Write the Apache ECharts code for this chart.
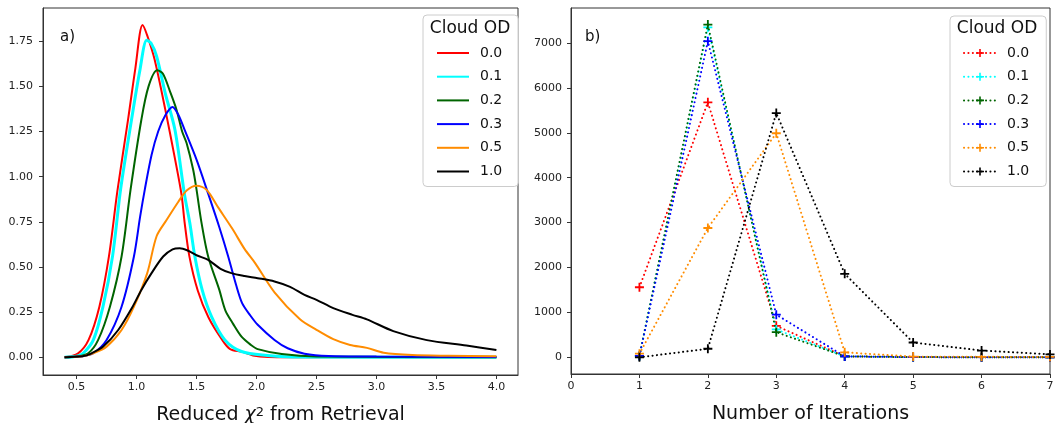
<!DOCTYPE html>
<html>
<head>
<meta charset="utf-8">
<script src="https://cdn.jsdelivr.net/npm/echarts@6/dist/echarts.min.js"></script>
<style>
html,body{margin:0;padding:0;background:#fff;}
#chart{width:1055px;height:423px;}
</style>
</head>
<body>
<div id="chart"></div>
<script>
// ---------- Panel a) : density of reduced chi^2 ----------
const odLabels = ['0.0', '0.1', '0.2', '0.3', '0.5', '1.0'];
const chiTicks = [0.5, 1.0, 1.5, 2.0, 2.5, 3.0, 3.5, 4.0];
const densTicks = [0, 0.25, 0.5, 0.75, 1.0, 1.25, 1.5, 1.75];

const chi_od00 = [[0.40,0],[0.51,0.02],[0.60,0.096],[0.69,0.28],[0.77,0.56],[0.84,0.92],[0.93,1.32],[0.99,1.60],[1.05,1.84],[1.09,1.78],[1.15,1.65],[1.24,1.37],[1.32,1.10],[1.375,0.90],[1.40,0.75],[1.44,0.56],[1.51,0.37],[1.60,0.22],[1.71,0.10],[1.78,0.045],[1.88,0.03],[1.97,0.01],[2.1,0.002],[2.5,0],[4.0,0]];
const chi_od01 = [[0.40,0],[0.50,0.006],[0.555,0.022],[0.64,0.096],[0.72,0.28],[0.80,0.56],[0.867,0.93],[0.958,1.315],[1.028,1.59],[1.085,1.755],[1.12,1.74],[1.167,1.667],[1.24,1.46],[1.32,1.26],[1.40,0.90],[1.444,0.743],[1.486,0.558],[1.547,0.373],[1.625,0.225],[1.736,0.096],[1.875,0.032],[2.09,0.01],[2.3,0.002],[4.0,0]];
const chi_od02 = [[0.40,0],[0.50,0.004],[0.597,0.022],[0.68,0.096],[0.778,0.28],[0.875,0.558],[0.95,0.928],[1.04,1.315],[1.10,1.50],[1.172,1.589],[1.22,1.57],[1.28,1.47],[1.333,1.371],[1.38,1.25],[1.417,1.186],[1.472,1.038],[1.50,0.928],[1.542,0.743],[1.597,0.558],[1.69,0.373],[1.74,0.26],[1.805,0.185],[1.875,0.114],[1.95,0.07],[2.01,0.045],[2.21,0.018],[2.5,0.004],[4.0,0]];
const chi_od03 = [[0.40,0],[0.55,0.005],[0.639,0.022],[0.75,0.096],[0.875,0.28],[0.978,0.558],[1.03,0.78],[1.069,0.93],[1.125,1.12],[1.18,1.25],[1.24,1.34],[1.30,1.386],[1.35,1.34],[1.40,1.26],[1.50,1.094],[1.60,0.90],[1.69,0.72],[1.764,0.558],[1.83,0.40],[1.88,0.30],[1.95,0.23],[2.01,0.18],[2.15,0.096],[2.26,0.05],[2.40,0.02],[2.6,0.007],[3.0,0.004],[4.0,0.002]];
const chi_od05 = [[0.40,0],[0.55,0.005],[0.639,0.022],[0.75,0.059],[0.875,0.151],[0.978,0.28],[1.089,0.466],[1.167,0.67],[1.25,0.76],[1.347,0.86],[1.42,0.925],[1.50,0.95],[1.583,0.928],[1.68,0.83],[1.80,0.71],[1.90,0.60],[1.99,0.52],[2.15,0.36],[2.36,0.212],[2.5,0.152],[2.64,0.10],[2.78,0.068],[2.92,0.052],[3.06,0.025],[3.3,0.012],[3.6,0.008],[4.0,0.005]];
const chi_od10 = [[0.40,0],[0.55,0.005],[0.625,0.022],[0.722,0.059],[0.847,0.151],[0.967,0.28],[1.04,0.373],[1.125,0.466],[1.222,0.558],[1.30,0.598],[1.36,0.604],[1.43,0.59],[1.50,0.565],[1.597,0.539],[1.70,0.49],[1.79,0.466],[1.90,0.45],[2.01,0.438],[2.15,0.42],[2.28,0.39],[2.40,0.345],[2.50,0.318],[2.64,0.272],[2.80,0.235],[2.92,0.21],[3.14,0.145],[3.42,0.095],[3.75,0.065],[4.0,0.04]];

// ---------- Panel b) : number of iterations ----------
const iterations = [1, 2, 3, 4, 5, 6, 7];
const iterTicks = [0, 1, 2, 3, 4, 5, 6, 7];
const countTicks = [0, 1000, 2000, 3000, 4000, 5000, 6000, 7000];
const iter_od00 = [1560, 5680, 700, 20, 5, 2, 1];
const iter_od01 = [30, 7350, 620, 20, 5, 2, 1];
const iter_od02 = [30, 7410, 560, 20, 5, 2, 1];
const iter_od03 = [30, 7040, 950, 20, 5, 2, 1];
const iter_od05 = [80, 2880, 4990, 110, 15, 10, 8];
const iter_od10 = [0, 190, 5440, 1860, 330, 150, 65];

const colors = ['#ff0000', '#00ffff', '#006400', '#0000ff', '#ff8c00', '#000000'];
const chiSets = [chi_od00, chi_od01, chi_od02, chi_od03, chi_od05, chi_od10];
const iterSets = [iter_od00, iter_od01, iter_od02, iter_od03, iter_od05, iter_od10];

const FONT = 'DejaVu Sans';
const plusPath = 'path://M4,0 H6 V4 H10 V6 H6 V10 H4 V6 H0 V4 H4 Z';

function axisCommon(ticks, fmt, margin) {
  return {
    axisLine: { show: true, onZero: false, lineStyle: { color: '#333', width: 1 } },
    axisTick: { show: true, length: 4, lineStyle: { color: '#333', width: 1 }, customValues: ticks },
    axisLabel: { customValues: ticks, formatter: fmt, fontSize: 11, color: '#222', fontFamily: FONT, margin: margin },
    splitLine: { show: false }
  };
}

const series = [];
chiSets.forEach((d, i) => {
  series.push({
    name: 'a:' + odLabels[i], type: 'line', xAxisIndex: 0, yAxisIndex: 0,
    data: d, smooth: 0.3, symbol: 'none',
    lineStyle: { color: colors[i], width: i === 1 ? 3 : 2 },
    itemStyle: { color: colors[i] }, z: 2 + i
  });
});
iterSets.forEach((d, i) => {
  series.push({
    name: 'b:' + odLabels[i], type: 'line', xAxisIndex: 1, yAxisIndex: 1,
    data: iterations.map((x, k) => [x, d[k]]),
    symbol: plusPath, symbolSize: 9, showSymbol: true,
    lineStyle: { color: colors[i], width: 2, type: [0.1, 4.3], cap: 'round' },
    itemStyle: { color: colors[i] }, z: 2 + i
  });
});

function legendCfg(prefix, left, top, padding, itemHeight, extra) {
  return Object.assign({
    orient: 'vertical', left: left, top: top, padding: padding,
    itemWidth: 32, itemHeight: itemHeight, itemGap: 9.7,
    backgroundColor: 'rgba(255,255,255,0.85)', borderColor: '#cccccc', borderWidth: 1, borderRadius: 4,
    selectedMode: false,
    formatter: n => n.split(':')[1],
    textStyle: { fontSize: 14, fontFamily: FONT, color: '#111', lineHeight: 14, padding: [0, 0, 0, 6] },
    data: odLabels.map(l => prefix + l)
  }, extra);
}

const option = {
  animation: false,
  backgroundColor: '#fff',
  grid: [
    { left: 43, top: 8, width: 475, height: 367, show: true, borderColor: '#333', borderWidth: 1, outerBoundsMode: 'none', containLabel: false },
    { left: 571, top: 8, width: 479, height: 366, show: true, borderColor: '#333', borderWidth: 1, outerBoundsMode: 'none', containLabel: false }
  ],
  xAxis: [
    Object.assign({
      type: 'value', gridIndex: 0, min: 0.22, max: 4.18,
      name: '{t|Reduced }{i|χ}{s|2}{t| from Retrieval}', nameLocation: 'middle', nameGap: 31,
      nameTextStyle: { fontFamily: FONT, fontSize: 19, color: '#111',
        rich: { t: { fontSize: 19, fontFamily: FONT, color: '#111' },
                i: { fontSize: 19, fontFamily: FONT, fontStyle: 'italic', color: '#111' },
                s: { fontSize: 13, fontFamily: FONT, color: '#111', verticalAlign: 'top' } } }
    }, axisCommon(chiTicks, v => v.toFixed(1), 7)),
    Object.assign({
      type: 'value', gridIndex: 1, min: 0, max: 7, interval: 1,
      name: 'Number of Iterations', nameLocation: 'middle', nameGap: 31,
      nameTextStyle: { fontFamily: FONT, fontSize: 19, color: '#111' }
    }, axisCommon(iterTicks, v => String(v), 7))
  ],
  yAxis: [
    Object.assign({ type: 'value', gridIndex: 0, min: -0.0982, max: 1.934 },
      axisCommon(densTicks, v => v.toFixed(2), 10)),
    Object.assign({ type: 'value', gridIndex: 1, min: -372, max: 7780 },
      axisCommon(countTicks, v => String(Math.round(v)), 9))
  ],
  legend: [
    legendCfg('a:', 423, 15, [31, 16, 8, 13], 14, { itemStyle: { opacity: 0 } }),
    legendCfg('b:', 950, 16, [30, 17, 8, 13], 10, {})
  ],
  graphic: [
    { type: 'text', x: 470, y: 29, z: 100, style: { text: 'Cloud OD', font: '17px "DejaVu Sans"', fill: '#111', textAlign: 'center', textVerticalAlign: 'middle' } },
    { type: 'text', x: 997, y: 29, z: 100, style: { text: 'Cloud OD', font: '17px "DejaVu Sans"', fill: '#111', textAlign: 'center', textVerticalAlign: 'middle' } },
    { type: 'text', x: 60, y: 37, z: 100, style: { text: 'a)', font: '15px "DejaVu Sans"', fill: '#111', textAlign: 'left', textVerticalAlign: 'middle' } },
    { type: 'text', x: 585, y: 37, z: 100, style: { text: 'b)', font: '15px "DejaVu Sans"', fill: '#111', textAlign: 'left', textVerticalAlign: 'middle' } }
  ],
  series: series
};

const chart = echarts.init(document.getElementById('chart'), null, { renderer: 'canvas' });
chart.setOption(option);
</script>
</body>
</html>
